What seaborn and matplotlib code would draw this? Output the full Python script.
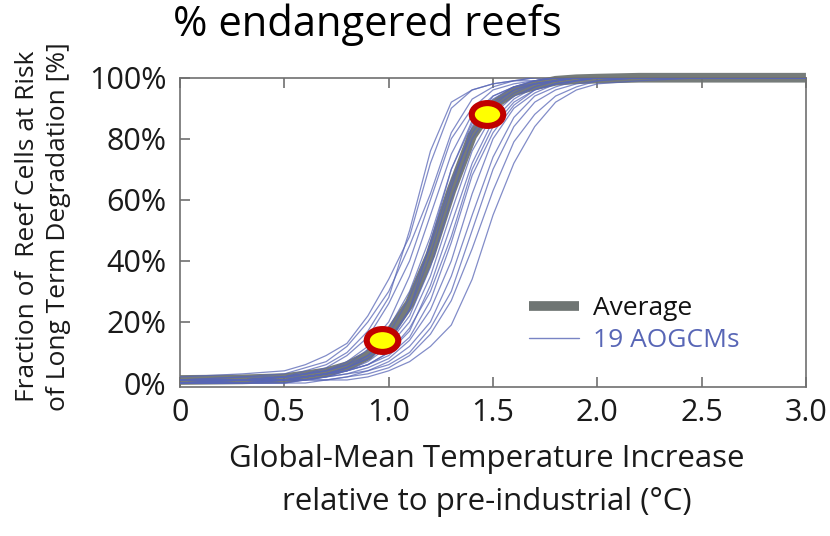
"""Reef degradation risk vs. global-mean warming (19 AOGCMs + average)."""

import matplotlib
matplotlib.use("Agg")
import matplotlib.pyplot as plt
from matplotlib.lines import Line2D
from matplotlib.markers import MarkerStyle
from matplotlib.transforms import Affine2D
import pandas as pd
import seaborn as sns

# Temperature grid (degC above pre-industrial)
temps = [0.0, 0.3, 0.5, 0.6, 0.7, 0.8, 0.9, 1.0, 1.1, 1.2, 1.3,
         1.4, 1.5, 1.6, 1.7, 1.8, 1.9, 2.0, 2.2, 2.5, 3.0]

# Fraction of reef cells at risk (%) for each model
models = {
    "m01": [2, 3, 4, 6, 9, 13, 22, 34, 48, 72, 90, 96, 98, 99, 100, 100, 100, 100, 100, 100, 100],
    "m02": [1, 2, 3, 5, 7, 12, 20, 30, 45, 62, 82, 93, 97, 99, 99, 100, 100, 100, 100, 100, 100],
    "m03": [0, 1, 2, 4, 6, 10, 17, 28, 50, 76, 92, 96, 98, 99, 100, 100, 100, 100, 100, 100, 100],
    "m04": [1, 1, 2, 3, 5, 9, 15, 26, 40, 60, 80, 90, 96, 98, 99, 100, 100, 100, 100, 100, 100],
    "m05": [0, 1, 2, 3, 4, 7, 12, 20, 35, 55, 75, 88, 94, 97, 99, 100, 100, 100, 100, 100, 100],
    "m06": [1, 1, 2, 3, 4, 6, 11, 18, 30, 48, 70, 86, 93, 97, 98, 99, 100, 100, 100, 100, 100],
    "m07": [0, 1, 1, 2, 3, 5, 9, 16, 28, 45, 66, 82, 91, 96, 98, 99, 100, 100, 100, 100, 100],
    "m08": [1, 2, 2, 3, 4, 6, 9, 14, 24, 42, 64, 84, 94, 97, 99, 100, 100, 100, 100, 100, 100],
    "m09": [0, 0, 1, 2, 3, 5, 8, 13, 22, 38, 60, 80, 90, 95, 98, 99, 100, 100, 100, 100, 100],
    "m10": [1, 1, 1, 2, 3, 4, 7, 12, 20, 35, 56, 76, 88, 94, 97, 99, 100, 100, 100, 100, 100],
    "m11": [0, 1, 1, 2, 3, 4, 6, 10, 17, 32, 52, 72, 86, 93, 97, 99, 100, 100, 100, 100, 100],
    "m12": [0, 0, 1, 1, 2, 4, 6, 10, 18, 30, 48, 70, 84, 92, 96, 98, 99, 100, 100, 100, 100],
    "m13": [1, 1, 1, 2, 3, 4, 6, 9, 15, 27, 46, 68, 82, 91, 96, 98, 99, 100, 100, 100, 100],
    "m14": [0, 0, 1, 1, 2, 3, 5, 8, 14, 24, 40, 62, 80, 90, 95, 98, 99, 100, 100, 100, 100],
    "m15": [0, 0, 0, 1, 2, 3, 4, 7, 12, 20, 35, 55, 74, 87, 94, 97, 99, 100, 100, 100, 100],
    "m16": [0, 0, 1, 1, 1, 2, 4, 6, 10, 18, 30, 50, 70, 84, 92, 96, 98, 99, 100, 100, 100],
    "m17": [0, 0, 0, 1, 1, 2, 3, 5, 9, 16, 27, 44, 63, 79, 88, 94, 97, 99, 100, 100, 100],
    "m18": [0, 0, 0, 0, 1, 1, 2, 4, 7, 12, 19, 34, 55, 72, 84, 92, 96, 98, 99, 100, 100],
    "m19": [1, 1, 2, 2, 3, 5, 8, 13, 24, 46, 70, 85, 92, 96, 98, 99, 100, 100, 100, 100, 100],
}

# Multi-model average (%)
average = [1, 1.2, 1.6, 2.5, 3.5, 5.5, 9, 16, 26, 42, 63,
           81, 91, 95.5, 97.5, 99, 99.5, 99.7, 100, 100, 100]

# Highlighted points
marker_t = [0.97, 1.47]
marker_frac = [14, 88]

x_ticks = [0, 0.5, 1.0, 1.5, 2.0, 2.5, 3.0]
x_ticklabels = ["0", "0.5", "1.0", "1.5", "2.0", "2.5", "3.0"]
y_ticks = [0, 20, 40, 60, 80, 100]
y_ticklabels = ["0%", "20%", "40%", "60%", "80%", "100%"]

BLUE = "#5866b6"
GRAY = "#6f7573"
SPINE = "#707070"
TEXT = "#1a1a1a"

sns.set_style("ticks")
plt.rcParams["font.family"] = ["Open Sans", "DejaVu Sans"]

# long-form table for seaborn
rows = []
for name, vals in models.items():
    for t, v in zip(temps, vals):
        rows.append({"model": name, "temp": t, "frac": v})
df = pd.DataFrame(rows)

fig = plt.figure(figsize=(8.3, 5.36), dpi=100)
ax = fig.add_axes([0.217, 0.278, 0.754, 0.577])

sns.lineplot(x=temps, y=average, color=GRAY, lw=7, alpha=0.95,
             solid_capstyle="butt", clip_on=False, ax=ax, zorder=2)
sns.lineplot(data=df, x="temp", y="frac", units="model", estimator=None,
             color=BLUE, lw=0.9, alpha=0.75, legend=False, ax=ax, zorder=3)

ellipse = MarkerStyle("o", transform=Affine2D().scale(1.38, 1.0))
ax.scatter(marker_t, marker_frac, marker=ellipse, s=270, facecolor="#ffff00",
           edgecolor="#c00000", linewidth=4.4, zorder=5, clip_on=False)

ax.set_xlim(0, 3.0)
ax.set_ylim(-1.3, 100)
ax.set_xticks(x_ticks)
ax.set_xticklabels(x_ticklabels)
ax.set_yticks(y_ticks)
ax.set_yticklabels(y_ticklabels)
ax.set_xlabel("")
ax.set_ylabel("")

for sp in ax.spines.values():
    sp.set_visible(True)
    sp.set_color(SPINE)
    sp.set_linewidth(1.2)
ax.tick_params(axis="x", direction="in", top=True, bottom=True, length=7,
               width=1.2, color=SPINE, labelsize=22, pad=8, labelcolor=TEXT)
ax.tick_params(axis="y", direction="in", left=True, right=False, length=7,
               width=1.2, color=SPINE, labelsize=22, pad=10, labelcolor=TEXT)

# legend
handles = [Line2D([], [], color=GRAY, lw=7, solid_capstyle="butt"),
           Line2D([], [], color=BLUE, lw=1.0, alpha=0.8)]
ax.legend(handles, ["Average", "19 AOGCMs"], loc="upper left",
          bbox_to_anchor=(0.52, 0.37), frameon=False, fontsize=19,
          handlelength=1.9, handletextpad=0.5, labelspacing=0.25,
          labelcolor=["#111111", BLUE])

fig.text(0.209, 0.953, "% endangered reefs", fontsize=30, ha="left", va="center",
         color="black")
fig.text(0.052, 0.578, "Fraction of  Reef Cells at Risk\nof Long Term Degradation [%]",
         rotation=90, fontsize=19, ha="center", va="center", multialignment="center",
         linespacing=1.3, color=TEXT)
fig.text(0.587, 0.104, "Global-Mean Temperature Increase\nrelative to pre-industrial (°C)",
         fontsize=22.5, ha="center", va="center", multialignment="center",
         linespacing=1.55, color=TEXT)

fig.savefig("out.png", dpi=100)
